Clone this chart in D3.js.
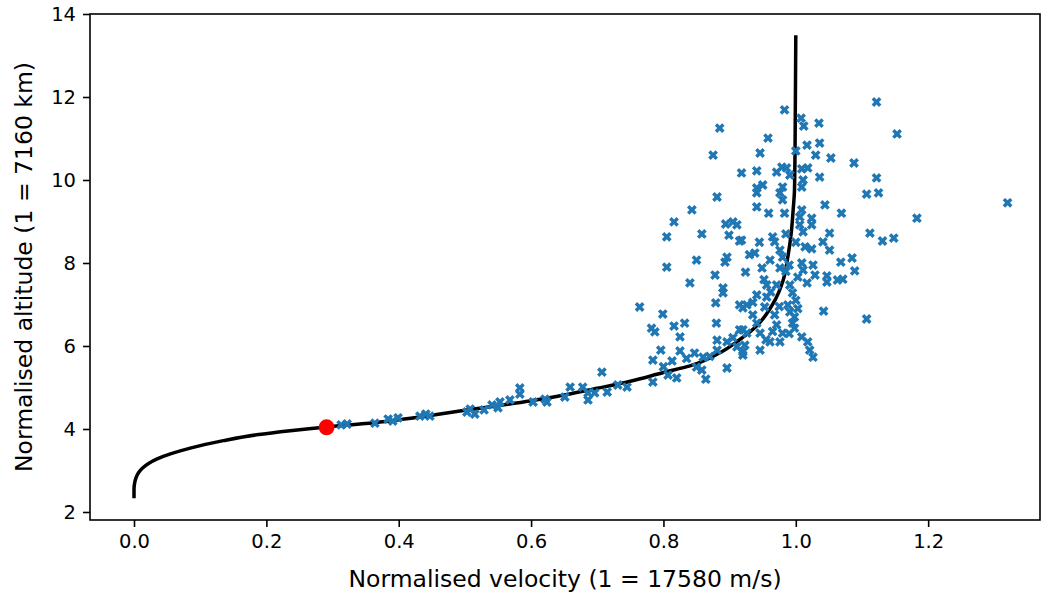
<!DOCTYPE html>
<html>
<head>
<meta charset="utf-8">
<script src="https://cdn.jsdelivr.net/npm/d3@7"></script>
<style>
  body { margin: 0; background: #fff; }
  text { font-family: "DejaVu Sans", sans-serif; }
</style>
</head>
<body>
<div id="vis"></div>
<script>
// ---- data ----
var xTicks = [0.0, 0.2, 0.4, 0.6, 0.8, 1.0, 1.2];
var yTicks = [2, 4, 6, 8, 10, 12, 14];

// black trajectory: [normalised velocity, normalised altitude]
var trajectory = [
  [0.000, 2.33], [0.000, 2.55], [0.001, 2.70], [0.003, 2.82], [0.007, 2.95],
  [0.013, 3.06], [0.022, 3.17], [0.035, 3.28], [0.055, 3.40], [0.085, 3.54],
  [0.135, 3.72], [0.185, 3.86], [0.236, 3.96], [0.291, 4.05], [0.350, 4.13],
  [0.400, 4.22], [0.450, 4.33], [0.500, 4.45], [0.550, 4.56], [0.600, 4.68],
  [0.650, 4.82], [0.700, 4.98], [0.750, 5.15], [0.800, 5.36], [0.840, 5.52],
  [0.890, 5.88], [0.915, 6.15], [0.940, 6.47], [0.966, 7.03], [0.981, 7.59],
  [0.988, 8.15], [0.993, 8.71], [0.996, 9.28], [0.998, 9.76], [0.999, 11.0],
  [1.000, 13.49]
];

// red marker
var startPoint = [0.291, 4.04];

// blue crosses
var observations = [
  [0.313, 4.10], [0.322, 4.12], [0.364, 4.14], [0.384, 4.24], [0.391, 4.19],
  [0.399, 4.27], [0.432, 4.31], [0.441, 4.36], [0.447, 4.31], [0.503, 4.41],
  [0.508, 4.48], [0.515, 4.36], [0.529, 4.46], [0.541, 4.58], [0.553, 4.65],
  [0.550, 4.51], [0.568, 4.70], [0.583, 4.84], [0.583, 4.99], [0.603, 4.65],
  [0.621, 4.72], [0.624, 4.65], [0.651, 4.77], [0.659, 5.01], [0.678, 5.01],
  [0.686, 4.87], [0.686, 4.70], [0.696, 4.87], [0.707, 5.37], [0.715, 4.89],
  [0.731, 5.06], [0.745, 5.01], [0.764, 6.94], [0.782, 6.43], [0.787, 6.34],
  [0.784, 5.66], [0.784, 5.13], [0.796, 5.90], [0.799, 6.77], [0.805, 8.63],
  [0.805, 7.90], [0.807, 5.30], [0.813, 5.64], [0.816, 8.99], [0.816, 6.48],
  [0.820, 5.23], [0.825, 6.22], [0.825, 5.88], [0.832, 6.55], [0.840, 7.52],
  [0.843, 9.28], [0.847, 5.83], [0.850, 8.07], [0.850, 5.49], [0.858, 8.70],
  [0.858, 5.42], [0.860, 5.73], [0.864, 5.20], [0.878, 7.71], [0.879, 7.04],
  [0.881, 9.59], [0.881, 6.14], [0.881, 5.90], [0.885, 11.25], [0.875, 10.60],
  [0.890, 7.40], [0.890, 7.28], [0.893, 8.02], [0.894, 8.94], [0.896, 8.14],
  [0.896, 6.10], [0.896, 5.47], [0.899, 8.67], [0.905, 8.99], [0.911, 8.92],
  [0.911, 5.98], [0.915, 8.53], [0.915, 6.99], [0.915, 6.39], [0.918, 10.17],
  [0.918, 8.55], [0.920, 6.92], [0.920, 6.39], [0.920, 5.86], [0.920, 5.78],
  [0.923, 6.02], [0.924, 7.78], [0.926, 6.99], [0.926, 6.31], [0.935, 6.75],
  [0.938, 8.24], [0.941, 10.22], [0.941, 9.81], [0.941, 9.69], [0.941, 9.35],
  [0.941, 7.23], [0.941, 6.55], [0.946, 10.65], [0.946, 6.31], [0.946, 5.90],
  [0.949, 7.88], [0.950, 9.88], [0.953, 6.94], [0.956, 7.47], [0.956, 7.18],
  [0.958, 11.01], [0.959, 9.20], [0.961, 8.07], [0.961, 6.10], [0.965, 8.63],
  [0.968, 8.51], [0.968, 6.75], [0.971, 10.19], [0.971, 7.47], [0.971, 6.51],
  [0.976, 9.69], [0.976, 8.31], [0.976, 7.88], [0.976, 6.10], [0.979, 10.31],
  [0.980, 9.83], [0.980, 9.52], [0.980, 8.14], [0.980, 6.31], [0.983, 11.69],
  [0.983, 9.20], [0.986, 10.29], [0.988, 6.99], [0.991, 10.12], [0.991, 7.47],
  [0.991, 6.82], [0.995, 7.28], [0.995, 6.55], [0.998, 6.70], [0.998, 6.43],
  [1.000, 10.70], [1.003, 7.66], [1.006, 9.11], [1.006, 8.92], [1.008, 11.49],
  [1.009, 10.27], [1.009, 9.83], [1.009, 9.28], [1.009, 8.00], [1.009, 6.22],
  [1.011, 10.00], [1.011, 8.75], [1.011, 7.83], [1.012, 11.30], [1.014, 8.39],
  [1.017, 10.84], [1.017, 7.52], [1.018, 10.29], [1.018, 6.10], [1.021, 5.90],
  [1.024, 9.08], [1.024, 8.92], [1.024, 8.34], [1.026, 7.95], [1.026, 5.73],
  [1.029, 7.71], [1.030, 10.60], [1.035, 11.37], [1.036, 10.89], [1.036, 10.07],
  [1.042, 6.84], [1.044, 9.40], [1.047, 7.69], [1.047, 7.54], [1.051, 8.72],
  [1.041, 8.51], [1.051, 8.31], [1.053, 10.53], [1.063, 7.59], [1.071, 7.61],
  [1.068, 8.02], [1.069, 9.20], [1.085, 8.12], [1.088, 10.41], [1.089, 7.81],
  [1.107, 9.66], [1.107, 6.65], [1.112, 8.72], [1.122, 11.88], [1.122, 10.05],
  [1.125, 9.69], [1.131, 8.53], [1.148, 8.60], [1.153, 11.11], [1.183, 9.08],
  [1.320, 9.45],
  [0.952, 7.60], [0.962, 7.30], [0.985, 7.80], [0.990, 7.95], [0.965, 6.35],
  [0.975, 6.95], [0.955, 6.15], [0.990, 6.30], [1.000, 7.10], [1.003, 6.90],
  [0.935, 7.05], [0.930, 8.20], [0.945, 8.50], [0.985, 8.70], [1.000, 8.50],
  [0.800, 5.50], [0.835, 5.70], [0.870, 5.75], [0.905, 6.20], [0.880, 6.55]
];

var xLabel = "Normalised velocity (1 = 17580 m/s)";
var yLabel = "Normalised altitude (1 = 7160 km)";

// ---- layout ----
var margin = {top: 14, right: 2, bottom: 73, left: 90};
var W = 1042, H = 593;
var width = W - margin.left - margin.right;
var height = H - margin.top - margin.bottom;

var svg = d3.select("#vis").append("svg")
  .attr("width", W)
  .attr("height", H);

var g = svg.append("g")
  .attr("transform", "translate(" + margin.left + "," + margin.top + ")");

var x = d3.scaleLinear().domain([-0.0665, 1.369]).range([0, width]);
var y = d3.scaleLinear().domain([1.807, 14.0]).range([height, 0]);

// trajectory line
var line = d3.line()
  .x(function(d) { return x(d[0]); })
  .y(function(d) { return y(d[1]); })
  .curve(d3.curveMonotoneY);

g.append("path")
  .datum(trajectory)
  .attr("fill", "none")
  .attr("stroke", "#000")
  .attr("stroke-width", 3.5)
  .attr("d", line);

// scatter crosses (matplotlib "X" marker)
var cross = d3.symbol().type(d3.symbolCross).size(60);
g.append("g")
  .selectAll("path")
  .data(observations)
  .enter().append("path")
  .attr("d", cross)
  .attr("fill", "#1f77b4")
  .attr("transform", function(d) {
    return "translate(" + x(d[0]) + "," + y(d[1]) + ") rotate(45)";
  });

// red start point
g.append("circle")
  .attr("cx", x(startPoint[0]))
  .attr("cy", y(startPoint[1]))
  .attr("r", 8)
  .attr("fill", "#ff0000");

// axes
var xAxis = g.append("g")
  .attr("transform", "translate(0," + height + ")")
  .call(d3.axisBottom(x).tickValues(xTicks).tickFormat(d3.format(".1f")).tickSizeInner(7).tickSizeOuter(0).tickPadding(7));

var yAxis = g.append("g")
  .call(d3.axisLeft(y).tickValues(yTicks).tickFormat(d3.format("d")).tickSizeInner(7).tickSizeOuter(0).tickPadding(7));

[xAxis, yAxis].forEach(function(a) {
  a.select(".domain").remove();
  a.selectAll(".tick line").attr("stroke", "#000").attr("stroke-width", 1.6);
  a.selectAll(".tick text")
    .attr("fill", "#000")
    .attr("font-size", 19.5)
    .attr("font-family", "DejaVu Sans");
});

// frame
g.append("rect")
  .attr("width", width)
  .attr("height", height)
  .attr("fill", "none")
  .attr("stroke", "#000")
  .attr("stroke-width", 1.6);

// axis labels
svg.append("text")
  .attr("x", margin.left + width / 2)
  .attr("y", H - 6)
  .attr("text-anchor", "middle")
  .attr("font-size", 23.5)
  .text(xLabel);

svg.append("text")
  .attr("transform", "translate(32," + (margin.top + height / 2) + ") rotate(-90)")
  .attr("text-anchor", "middle")
  .attr("font-size", 23.5)
  .text(yLabel);
</script>
</body>
</html>
